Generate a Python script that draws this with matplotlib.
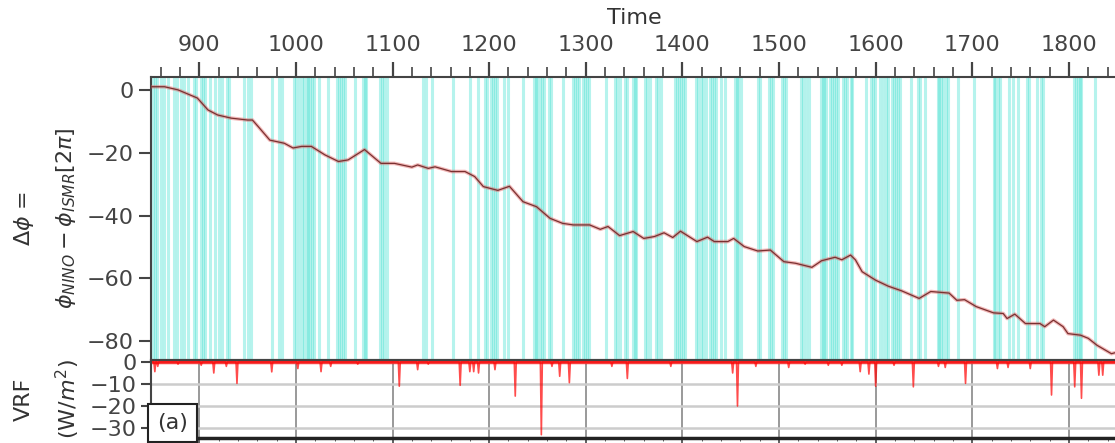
import numpy as np
import matplotlib
matplotlib.use('Agg')
import matplotlib.pyplot as plt
from matplotlib.ticker import MultipleLocator

# years marked by the teal vertical bands
event_years = [852, 854, 856, 860, 863, 868, 874, 877, 881, 884, 888, 895, 897,
               902, 904, 906, 911, 916, 920, 924, 929, 931, 946, 950, 954, 975,
               983, 986, 998, 1000, 1003, 1006, 1008, 1011, 1013, 1015, 1017,
               1019, 1024, 1033, 1043, 1045, 1047, 1049, 1051, 1061, 1069, 1071,
               1073, 1087, 1089, 1091, 1094, 1132, 1135, 1141, 1163, 1180,
               1188, 1196, 1198, 1202, 1204, 1206, 1208, 1215, 1219, 1235, 1246,
               1248, 1250, 1253, 1255, 1257, 1262, 1264, 1276, 1287, 1289, 1291,
               1293, 1297, 1299, 1301, 1303, 1321, 1330, 1332, 1335, 1341, 1343,
               1349, 1351, 1352, 1361, 1363, 1366, 1373, 1375, 1378, 1392, 1394,
               1396, 1399, 1401, 1403, 1414, 1416, 1419, 1421, 1424, 1429, 1431,
               1433, 1435, 1440, 1444, 1454, 1456, 1458, 1461, 1478, 1480, 1490,
               1492, 1494, 1503, 1505, 1507, 1523, 1525, 1528, 1531, 1543, 1545,
               1547, 1549, 1553, 1555, 1557, 1559, 1561, 1566, 1568, 1570, 1574,
               1576, 1590, 1595, 1597, 1599, 1605, 1608, 1611, 1613, 1617, 1619,
               1621, 1623, 1625, 1637, 1644, 1646, 1651, 1664, 1666, 1668, 1670,
               1673, 1675, 1685, 1702, 1722, 1724, 1727, 1729, 1738, 1742, 1747,
               1757, 1759, 1767, 1771, 1773, 1805, 1807, 1809, 1811, 1813, 1827]

# phase difference curve
phase_years = [851, 864, 878, 898, 909, 919, 933, 950, 955, 961, 973, 988, 997,
               1006, 1016, 1030, 1044, 1054, 1071, 1088, 1102, 1120, 1126, 1137,
               1144, 1161, 1175, 1185, 1194, 1209, 1221, 1235, 1249, 1263, 1276,
               1287, 1304, 1315, 1323, 1335, 1349, 1360, 1371, 1381, 1390, 1398,
               1415, 1426, 1433, 1447, 1453, 1464, 1478, 1491, 1505, 1517, 1534,
               1544, 1558, 1565, 1574, 1579, 1586, 1600, 1613, 1627, 1645, 1657,
               1676, 1684, 1692, 1704, 1722, 1732, 1736, 1744, 1755, 1770, 1775,
               1784, 1794, 1799, 1812, 1820, 1829, 1844, 1850]
phase_vals = [1.0, 1.0, 0.0, -2.6, -6.4, -8.0, -9.0, -9.6, -9.6, -11.7, -16.0,
              -17.0, -18.5, -18.0, -18.0, -20.7, -22.8, -22.3, -19.0, -23.4,
              -23.4, -24.6, -23.9, -25.0, -24.5, -26.0, -26.0, -27.6, -30.8,
              -32.0, -30.7, -35.6, -37.2, -40.9, -42.5, -43.0, -43.0, -44.4,
              -43.5, -46.4, -45.1, -47.3, -46.7, -45.5, -47.0, -45.0, -48.3,
              -46.9, -48.3, -48.3, -47.3, -49.9, -51.3, -51.0, -54.7, -55.2,
              -56.5, -54.4, -53.3, -54.1, -52.6, -54.1, -57.9, -60.6, -62.5,
              -64.0, -66.4, -64.2, -64.7, -67.0, -66.8, -69.0, -71.0, -71.2,
              -72.8, -71.4, -74.4, -74.4, -75.4, -73.3, -75.4, -77.6, -78.1,
              -79.1, -81.3, -84.0, -83.5]

# volcanic radiative forcing spikes
vrf_years = [854, 857, 878, 902, 915, 928, 939, 975, 1002, 1026, 1036, 1064,
             1107, 1126, 1137, 1170, 1180, 1184, 1189, 1206, 1227, 1254, 1265,
             1273, 1283, 1327, 1343, 1388, 1452, 1457, 1476, 1510, 1527, 1551,
             1565, 1584, 1593, 1600, 1619, 1639, 1665, 1672, 1693, 1726, 1737,
             1760, 1782, 1806, 1813, 1831, 1835]
vrf_vals = [-4.4, -2.0, -1.0, -1.5, -5.0, -2.0, -9.7, -4.5, -3.0, -4.4, -2.0,
            -1.0, -11.0, -3.5, -1.0, -10.6, -4.4, -4.4, -5.0, -3.5, -15.5,
            -33.0, -2.0, -6.5, -9.4, -2.0, -7.5, -2.0, -5.0, -20.0, -2.0, -2.5,
            -1.0, -1.5, -1.5, -4.4, -5.5, -11.0, -1.5, -11.3, -2.0, -2.5, -9.7,
            -3.0, -2.5, -3.0, -15.0, -11.3, -16.5, -6.0, -6.0]

# build the spike series: each spike drops from zero the year before to zero the year after
vx, vy = [850], [0.0]
for yr, v in zip(vrf_years, vrf_vals):
    vx += [yr - 1, yr, yr + 1]
    vy += [0.0, v, 0.0]
vx.append(1850)
vy.append(0.0)

plt.rcParams['font.size'] = 16
plt.rcParams['axes.edgecolor'] = '#444444'
plt.rcParams['xtick.color'] = '#444444'
plt.rcParams['ytick.color'] = '#444444'
plt.rcParams['text.color'] = '#333333'
plt.rcParams['axes.labelcolor'] = '#333333'

fig = plt.figure(figsize=(11.15, 4.43), dpi=100)
ax = fig.add_axes([0.1354, 0.1874, 0.8666, 0.6388])
ax2 = fig.add_axes([0.1354, 0.0113, 0.8666, 0.1761], sharex=ax)

for yr in event_years:
    ax.axvline(yr, color='#40E0D0', alpha=0.38, lw=2.2, zorder=1)

ax.plot(phase_years, phase_vals, color='#e06060', alpha=0.45, lw=2.6, zorder=3)
ax.plot(phase_years, phase_vals, color='#7a3030', lw=0.9, zorder=4)

ax.set_xlim(850, 1850)
ax.set_ylim(-86, 4.1)
ax.xaxis.set_major_locator(MultipleLocator(100))
ax.xaxis.set_minor_locator(MultipleLocator(20))
ax.xaxis.tick_top()
ax.xaxis.set_label_position('top')
ax.set_xlabel('Time', labelpad=8)
ax.tick_params(axis='x', which='major', length=11, width=1.6, pad=5)
ax.tick_params(axis='x', which='minor', length=7, width=1.2)
ax.tick_params(axis='y', length=9, width=1.5)
ax.set_yticks([0, -20, -40, -60, -80])
ax.set_ylabel('$\\Delta\\phi$ =\n$\\phi_{NINO} - \\phi_{ISMR}[2\\pi]$',
              labelpad=6, linespacing=2.0)
for s in ax.spines.values():
    s.set_linewidth(1.5)

ax2.plot(vx, vy, color='red', alpha=0.7, lw=1.2)
ax2.axhline(0, color='red', alpha=0.7, lw=2.5)
ax2.set_ylim(-34.5, 0.9)
ax2.set_yticks([0, -10, -20, -30])
ax2.grid(True, axis='y', color='#cccccc', lw=1.8)
ax2.grid(True, axis='x', color='#999999', lw=1.4)
ax2.tick_params(axis='x', labelbottom=False, labeltop=False, length=4, width=1.2)
ax2.tick_params(axis='y', length=7, width=1.5, pad=3)
ax2.set_ylabel('VRF\n(W/$m^2$)', labelpad=6, linespacing=1.9)
for s in ax2.spines.values():
    s.set_linewidth(1.5)
ax2.spines['bottom'].set_linewidth(2.5)
ax2.spines['bottom'].set_color('#222222')
ax2.text(0.006, 0.06, '(a)', transform=ax2.transAxes, fontsize=16,
         ha='left', va='bottom',
         bbox=dict(boxstyle='square,pad=0.4', facecolor='white', edgecolor='#222222', lw=1.5))

fig.savefig('out.png', dpi=100)
